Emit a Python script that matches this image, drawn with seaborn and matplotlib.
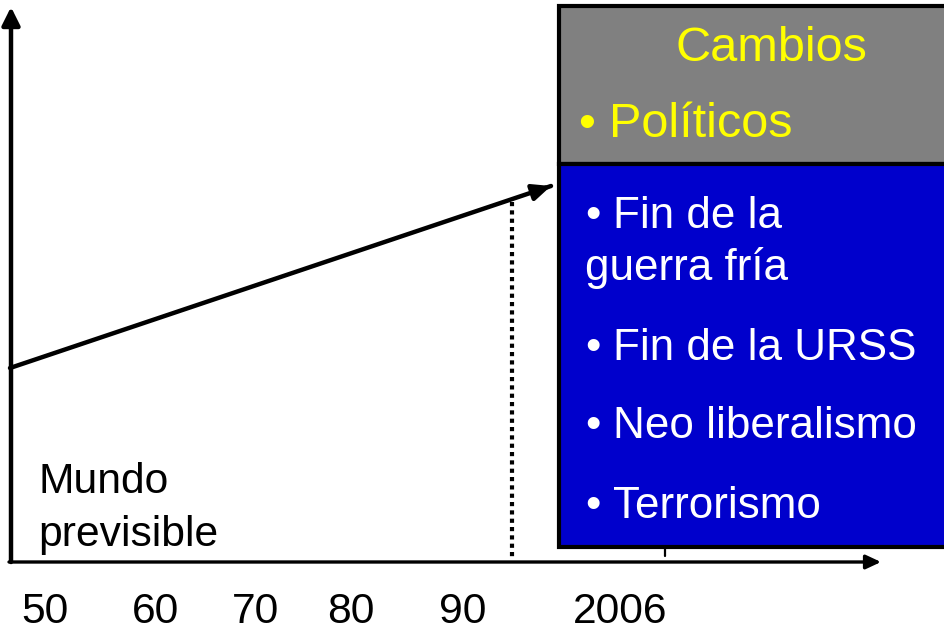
import matplotlib
matplotlib.use("Agg")
import matplotlib.pyplot as plt
import seaborn as sns
import pandas as pd
from matplotlib.patches import Rectangle

# ---- data (diagram coordinates, canvas units) ----
period_labels = ["50", "60", "70", "80", "90", "2006"]
period_pos = [45, 156, 255, 351, 463, 620]

trend_x = [10, 551]
trend_y = [368, 186]

marker_x = [512, 512]          # dotted reference line (early 90s)
marker_y = [202, 560]

box_title = "Cambios"
box_subtitle = "Políticos"
box_items = ["Fin de la\nguerra fría", "Fin de la URSS", "Neo liberalismo", "Terrorismo"]
left_label = "Mundo\nprevisible"

sns.set_theme(style="white")
plt.rcParams['font.family'] = ['Liberation Sans', 'DejaVu Sans']

fig = plt.figure(figsize=(9.44, 6.31), dpi=100)
ax = fig.add_axes([0, 0, 1, 1])
ax.set_xlim(0, 944)
ax.set_ylim(631, 0)
ax.axis("off")

# axes arrows
ax.annotate("", xy=(11, 7), xytext=(11, 562),
            arrowprops=dict(arrowstyle="-|>,head_length=0.9,head_width=0.45", lw=3.2, color="black",
                            shrinkA=0, shrinkB=0))
ax.annotate("", xy=(881, 562), xytext=(9, 562),
            arrowprops=dict(arrowstyle="-|>,head_length=0.75,head_width=0.35", lw=2.4, color="black",
                            shrinkA=0, shrinkB=0))

# trend line with arrow
trend = pd.DataFrame({"x": trend_x, "y": trend_y})
sns.lineplot(data=trend, x="x", y="y", ax=ax, color="black", lw=3.2,
             sort=False, estimator=None)
slope = (trend_y[0] - trend_y[1]) / (trend_x[1] - trend_x[0])
ax.annotate("", xy=(trend_x[1], trend_y[1]), xytext=(trend_x[1] - 20, trend_y[1] + 20 * slope),
            arrowprops=dict(arrowstyle="-|>,head_length=0.9,head_width=0.4", lw=3.2, color="black",
                            shrinkA=0, shrinkB=0))

# dotted marker
marker = pd.DataFrame({"x": marker_x, "y": marker_y})
sns.lineplot(data=marker, x="x", y="y", ax=ax, color="black", lw=3.0,
             linestyle=(0, (1, 1)), sort=False, estimator=None)

# tick for 2006
ax.plot([period_pos[-1] + 45, period_pos[-1] + 45], [548, 556], color="black", lw=1.6)

# period labels
for lab, xp in zip(period_labels, period_pos):
    ax.text(xp, 623, lab, ha="center", va="baseline", fontsize=30.7, color="black")

# left label
ax.text(38, 493, "Mundo", ha="left", va="baseline", fontsize=30.7, color="black")
ax.text(38, 546, "previsible", ha="left", va="baseline", fontsize=30.7, color="black")

# box
ax.add_patch(Rectangle((559, 6), 400, 158, facecolor="#808080", edgecolor="black", lw=3.0, zorder=3))
ax.add_patch(Rectangle((559, 164), 400, 383, facecolor="#0000CC", edgecolor="black", lw=3.0, zorder=3))

ax.text(771, 61, box_title, ha="center", va="baseline", fontsize=35, color="#FFFF00", zorder=4)
ax.text(578, 137, "•", ha="left", va="baseline", fontsize=35, color="#FFFF00", zorder=4)
ax.text(609, 137, box_subtitle, ha="left", va="baseline", fontsize=35, color="#FFFF00", zorder=4)

item_baselines = [228, 360, 438, 518]
for item, yb in zip(box_items, item_baselines):
    lines = item.split("\n")
    ax.text(585, yb, "•", ha="left", va="baseline", fontsize=31.7, color="white", zorder=4)
    ax.text(613, yb, lines[0], ha="left", va="baseline", fontsize=31.7, color="white", zorder=4)
    for k, extra in enumerate(lines[1:], start=1):
        ax.text(585, yb + 52 * k, extra, ha="left", va="baseline", fontsize=31.7, color="white", zorder=4)

fig.savefig("out.png", dpi=100)
